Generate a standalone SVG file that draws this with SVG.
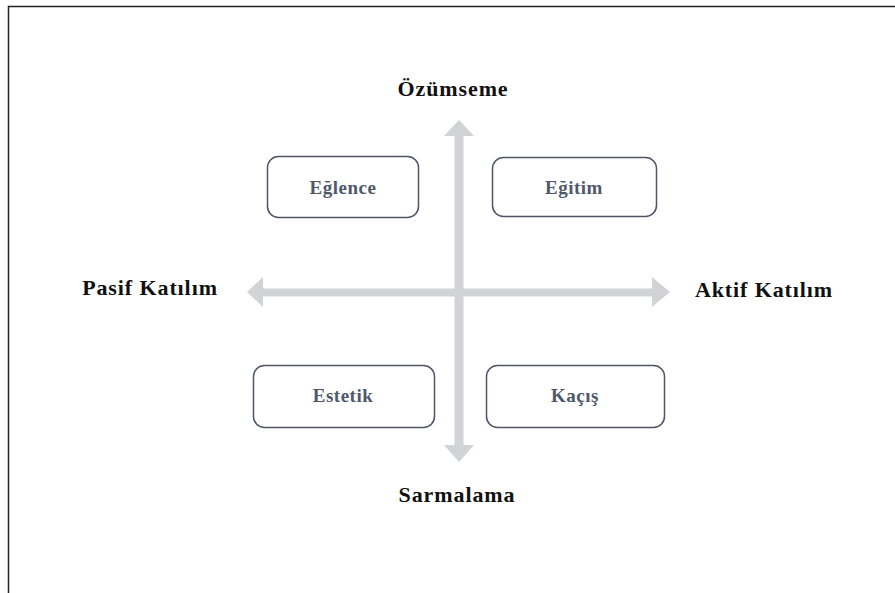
<svg xmlns="http://www.w3.org/2000/svg" width="895" height="593" viewBox="0 0 895 593">
<style>
.axis{font-family:"Liberation Serif","Times New Roman",serif;font-weight:bold;font-size:22px;letter-spacing:0.9px;fill:#111;text-anchor:middle}
.box rect{fill:#fff;stroke:#4d5566;stroke-width:1.5}
.box text{font-family:"Liberation Serif","Times New Roman",serif;font-weight:bold;font-size:19px;letter-spacing:0.5px;fill:#4f596a;text-anchor:middle}
.arr{fill:#d1d3d7}
</style>
<rect width="895" height="593" fill="#fff"/>
<path d="M8.5,593 V6.5 H895" fill="none" stroke="#222" stroke-width="1.5"/>
<g id="connectors">
<path class="arr" d="M263,288.5 H652 V277 L670,292 L652,307 V296.5 H263 V307 L247,292 L263,277 Z"/>
<path class="arr" d="M454.5,136 V445 H444 L459,462 L474,445 H463.5 V136 H474 L459,120 L444,136 Z"/>
</g>
<g id="label-ozumseme"><text class="axis" x="453" y="96">Özümseme</text></g>
<g id="label-sarmalama"><text class="axis" x="457" y="502">Sarmalama</text></g>
<g id="label-pasif"><text class="axis" x="150" y="295">Pasif Katılım</text></g>
<g id="label-aktif"><text class="axis" x="764" y="297">Aktif Katılım</text></g>
<g id="node-eglence" class="box"><rect x="267.5" y="156.5" width="151" height="61" rx="11"/><text x="343" y="194">Eğlence</text></g>
<g id="node-egitim" class="box"><rect x="492.5" y="157.5" width="164" height="59" rx="11"/><text x="574" y="194">Eğitim</text></g>
<g id="node-estetik" class="box"><rect x="253.5" y="365.5" width="181" height="62" rx="11"/><text x="343" y="402">Estetik</text></g>
<g id="node-kacis" class="box"><rect x="486.5" y="365.5" width="178" height="62" rx="11"/><text x="575" y="402">Kaçış</text></g>
</svg>
